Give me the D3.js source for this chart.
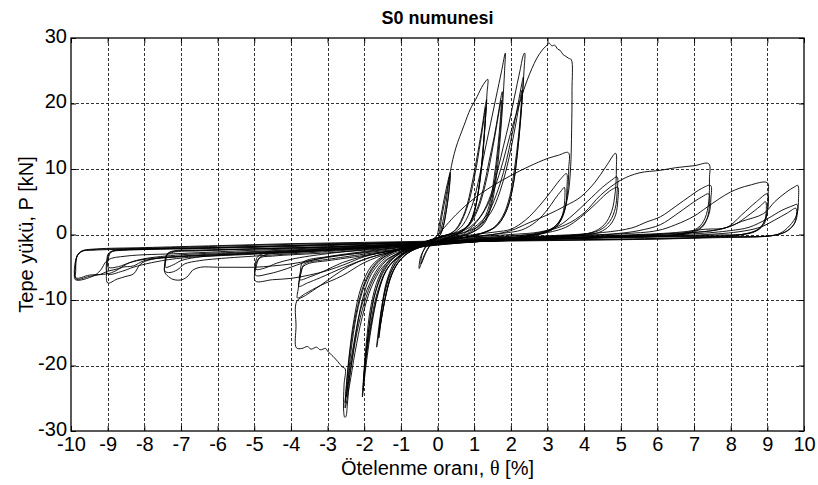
<!DOCTYPE html>
<html><head><meta charset="utf-8">
<script src="https://cdn.jsdelivr.net/npm/d3@7/dist/d3.min.js"></script>
<style>body{margin:0;background:#fff}svg{display:block}</style>
</head><body>
<svg id="chart" width="818" height="485"></svg>
<script>
// ---------- axis ticks ----------
const xTicks = [-10,-9,-8,-7,-6,-5,-4,-3,-2,-1,0,1,2,3,4,5,6,7,8,9,10];
const yTicks = [-30,-20,-10,0,10,20,30];
const titleText = "S0 numunesi";
const xLabel = "Ötelenme oranı, ";
const yLabel = "Tepe yükü, P [kN]";

// ---------- hysteresis cycles: [drift ratio %, load kN] ----------
const smallA1 = [[0,0],[0.1,3],[0.22,6.5],[0.35,9.5],[0.33,7.5],[0.25,4],[0.15,1],[0.05,-0.3],[-0.15,-1.3],[-0.3,-2.6],[-0.45,-4.5],[-0.42,-3],[-0.3,-1.6],[-0.1,-0.6],[0.05,0.2]];
const smallA2 = [[0.05,0.2],[0.12,2.8],[0.24,6.2],[0.34,9],[0.31,6.5],[0.22,3],[0.12,0.6],[0,-0.6],[-0.2,-1.6],[-0.35,-3],[-0.5,-5.2],[-0.46,-3.4],[-0.3,-1.8],[-0.1,-0.7],[0.08,0.3]];
const g1a = [[0.08,0.3],[0.2,3.5],[0.35,9.6],[0.5,13.2],[0.72,16.6],[0.9,19.2],[1.04,20.6],[1.2,22.4],[1.3,23.3],[1.37,23.7],[1.35,21.5],[1.3,17],[1.22,11],[1.1,6],[0.95,2.5],[0.7,0.6],[0.3,-0.4],[0,-1],[-0.4,-1.8],[-0.8,-2.8],[-1.1,-4.5],[-1.3,-7],[-1.45,-10.5],[-1.58,-14.5],[-1.66,-17.2],[-1.62,-15],[-1.52,-11],[-1.38,-7],[-1.15,-4],[-0.8,-2.3],[-0.4,-1.3],[0,-0.5],[0.3,0]];
const g1b = [[0.3,0],[0.5,0.8],[0.75,3.5],[0.95,8],[1.1,12.5],[1.22,16.5],[1.3,19.5],[1.34,20.6],[1.32,18.5],[1.26,14],[1.17,9],[1.05,4.5],[0.9,1.8],[0.65,0.4],[0.3,-0.5],[-0.2,-1.4],[-0.6,-2.2],[-0.95,-3.5],[-1.2,-5.5],[-1.38,-8.5],[-1.52,-12.5],[-1.6,-15.8],[-1.57,-13.5],[-1.47,-9.5],[-1.3,-6],[-1.05,-3.6],[-0.7,-2.1],[-0.3,-1.1],[0.1,-0.3],[0.35,0.1]];
const g1c = [[0.35,0.1],[0.55,1],[0.8,4],[1.0,8.5],[1.14,13],[1.25,17],[1.32,19.5],[1.3,17.5],[1.24,13],[1.15,8],[1.02,4],[0.85,1.5],[0.6,0.3],[0.2,-0.6],[-0.3,-1.5],[-0.7,-2.4],[-1.0,-3.8],[-1.25,-6],[-1.42,-9.5],[-1.55,-13.5],[-1.6,-15.2],[-1.55,-12.5],[-1.42,-8.5],[-1.22,-5.2],[-0.95,-3.2],[-0.6,-1.9],[-0.2,-0.9],[0.2,-0.2],[0.45,0.2]];
const g2a = [[0.45,0.2],[0.7,1.5],[0.95,4.5],[1.15,9],[1.3,13],[1.45,17],[1.6,21],[1.75,25],[1.85,27.7],[1.83,25],[1.78,20],[1.7,14],[1.6,8.5],[1.45,4],[1.25,1.5],[0.9,0.2],[0.4,-0.6],[-0.2,-1.4],[-0.7,-2.3],[-1.1,-3.5],[-1.4,-5.5],[-1.62,-9],[-1.8,-14],[-1.95,-20],[-2.05,-24.8],[-2.02,-22],[-1.95,-17],[-1.82,-11],[-1.6,-6.5],[-1.3,-3.8],[-0.9,-2.3],[-0.4,-1.2],[0.1,-0.3],[0.5,0.3]];
const g2b = [[0.5,0.3],[0.8,1.2],[1.05,3.5],[1.25,7],[1.4,11],[1.55,15],[1.66,18.5],[1.74,21.2],[1.77,21.8],[1.75,19],[1.68,14],[1.58,9],[1.45,4.5],[1.28,2],[1.0,0.5],[0.5,-0.5],[0,-1.2],[-0.5,-2.0],[-1.0,-3.2],[-1.35,-5],[-1.6,-8.5],[-1.8,-13.5],[-1.95,-19],[-2.03,-23.8],[-2.0,-21],[-1.9,-15.5],[-1.75,-10],[-1.5,-6],[-1.2,-3.6],[-0.8,-2.1],[-0.3,-1.1],[0.2,-0.2],[0.55,0.3]];
const g2c = [[0.55,0.3],[0.85,1.3],[1.1,3.8],[1.3,7.5],[1.45,11.5],[1.58,15.5],[1.68,18.8],[1.74,20.5],[1.72,18],[1.64,13],[1.54,8.5],[1.4,4.2],[1.2,1.8],[0.9,0.4],[0.4,-0.6],[-0.1,-1.3],[-0.6,-2.1],[-1.05,-3.4],[-1.4,-5.5],[-1.65,-9],[-1.85,-14.5],[-1.98,-20],[-2.02,-22.8],[-1.97,-19.5],[-1.85,-13.5],[-1.68,-8.5],[-1.45,-5.2],[-1.1,-3.1],[-0.7,-1.9],[-0.2,-0.9],[0.3,-0.1],[0.6,0.3]];
const g3a = [[0.6,0.3],[0.9,1.2],[1.2,3],[1.45,6],[1.65,10],[1.8,13.5],[1.95,17],[2.1,21],[2.25,25],[2.35,27.5],[2.38,27.7],[2.36,25],[2.3,20],[2.2,13.5],[2.08,8],[1.9,4],[1.65,1.5],[1.2,0.2],[0.6,-0.6],[0,-1.3],[-0.6,-2.1],[-1.1,-3.2],[-1.5,-5],[-1.8,-8],[-2.05,-12.5],[-2.25,-18],[-2.4,-23],[-2.52,-26.5],[-2.5,-24],[-2.42,-19],[-2.28,-13],[-2.08,-8],[-1.8,-4.8],[-1.4,-3],[-0.9,-1.9],[-0.3,-1.0],[0.3,-0.2],[0.7,0.3]];
const g3b = [[0.7,0.3],[1.0,1.1],[1.35,3],[1.6,6],[1.8,9.5],[1.95,13],[2.08,16.5],[2.2,20],[2.3,23],[2.34,24],[2.32,21.5],[2.26,17],[2.16,11.5],[2.03,6.5],[1.85,3.2],[1.55,1],[1.0,-0.1],[0.4,-0.8],[-0.3,-1.6],[-0.9,-2.5],[-1.4,-4],[-1.75,-6.8],[-2.0,-10.5],[-2.2,-15],[-2.35,-20],[-2.47,-24],[-2.52,-25.7],[-2.48,-23],[-2.38,-17.5],[-2.22,-12],[-2.0,-7.5],[-1.7,-4.5],[-1.3,-2.9],[-0.8,-1.9],[-0.2,-1.0],[0.4,-0.2],[0.75,0.3]];
const g3c = [[0.75,0.3],[1.1,1.2],[1.45,3.3],[1.7,6.5],[1.88,10],[2.02,13.5],[2.14,17],[2.24,20.2],[2.3,22],[2.28,19.5],[2.21,15],[2.1,10],[1.97,5.8],[1.78,2.8],[1.5,0.9],[1.0,-0.2],[0.3,-0.9],[-0.4,-1.7],[-1.0,-2.7],[-1.5,-4.3],[-1.85,-7.5],[-2.1,-11.5],[-2.28,-16.5],[-2.42,-21.5],[-2.48,-24.8],[-2.44,-22],[-2.33,-16.5],[-2.16,-11],[-1.92,-6.8],[-1.6,-4.1],[-1.2,-2.7],[-0.6,-1.6],[0,-0.8],[0.7,0]];
const g4 = [[0.7,0],[1.0,1.5],[1.3,3.8],[1.55,7],[1.78,11],[1.99,15.4],[2.18,19],[2.45,23.6],[2.7,26.8],[2.88,28.3],[2.99,28.9],[3.05,29.2],[3.12,28.8],[3.2,28.9],[3.28,28.3],[3.35,28.1],[3.42,27.5],[3.5,27.2],[3.58,26.9],[3.65,26.7],[3.67,22],[3.66,16],[3.63,10],[3.56,6],[3.42,3],[3.2,1.2],[2.8,0.2],[2.0,-0.5],[1.0,-0.9],[0,-1.4],[-0.8,-2.2],[-1.4,-3.5],[-1.8,-6],[-2.05,-10],[-2.25,-16],[-2.4,-22],[-2.46,-26],[-2.5,-27.8],[-2.53,-27.9],[-2.56,-27],[-2.55,-23],[-2.52,-20.5],[-2.6,-20.2],[-2.72,-19.4],[-2.85,-18.6],[-3.0,-17.8],[-3.05,-17.4],[-3.2,-17.6],[-3.3,-17.2],[-3.45,-17.5],[-3.55,-17.1],[-3.7,-17.4],[-3.85,-17.3],[-3.86,-14],[-3.84,-10.2],[-3.6,-9.3],[-3.2,-7.8],[-2.8,-6.2],[-2.4,-4.8],[-1.9,-3.6],[-1.3,-2.7],[-0.6,-1.8],[0,-1.0],[0.5,-0.3]];
const g5a = [[0.1,0.5],[0.5,3],[1.0,5.5],[1.5,7.4],[2.0,9],[2.5,10.4],[3.0,11.6],[3.3,12.1],[3.57,12.5],[3.58,10],[3.55,6.5],[3.45,3.5],[3.25,1.5],[2.9,0.3],[2.0,-0.5],[1.0,-1.0],[0,-1.5],[-1.0,-2.3],[-2.0,-3.2],[-3.0,-4.0],[-3.5,-4.4],[-3.68,-5],[-3.75,-6.5],[-3.8,-8.3],[-3.82,-9.7],[-3.6,-9.0],[-3.2,-7.8],[-2.6,-6.3],[-2.0,-4.3],[-1.3,-2.8],[-0.6,-1.8],[0,-1.0],[0.6,-0.2]];
const g5b = [[0.3,-0.6],[1.0,0],[1.6,0.4],[2.0,0.8],[2.4,2.2],[2.8,4.5],[3.1,6.6],[3.35,8.4],[3.52,9.3],[3.53,7],[3.5,4.5],[3.4,2.5],[3.2,1],[2.8,0.1],[2.0,-0.6],[1,-1.1],[0,-1.6],[-1.0,-2.3],[-2.0,-3.0],[-3.0,-3.8],[-3.5,-4.2],[-3.65,-4.6],[-3.72,-5.8],[-3.78,-7.9],[-3.55,-7.4],[-3.2,-6.6],[-2.55,-5],[-2.0,-3.8],[-1.3,-2.7],[-0.6,-1.8],[0.2,-0.9],[0.5,-0.6]];
const g5c = [[0.5,-0.6],[1.2,-0.2],[1.8,0.2],[2.3,0.7],[2.7,2],[3.0,3.8],[3.2,5.4],[3.38,6.7],[3.46,7.2],[3.47,5.2],[3.42,3.2],[3.3,1.6],[3.05,0.5],[2.5,-0.3],[1.5,-0.9],[0,-1.6],[-1.0,-2.2],[-2.0,-2.8],[-3.0,-3.4],[-3.55,-3.9],[-3.7,-4.4],[-3.74,-5.6],[-3.76,-6.9],[-3.5,-6.5],[-3.1,-5.6],[-2.6,-4.3],[-2.0,-3.3],[-1.3,-2.5],[-0.5,-1.6],[0.3,-0.8],[0.8,-0.4]];
const g6a = [[0.8,-0.4],[1.5,0],[2.0,0.6],[2.5,1.8],[3.0,3],[3.5,4.4],[3.9,5.7],[4.3,8],[4.6,10.4],[4.86,12.4],[4.88,10],[4.85,6.5],[4.75,3.5],[4.55,1.5],[4.2,0.3],[3,-0.4],[1.5,-0.9],[0,-1.5],[-1.5,-2.2],[-3,-2.8],[-4.5,-3.3],[-4.85,-3.6],[-4.95,-5],[-4.97,-7.1],[-4.5,-6.9],[-4.0,-6.7],[-3.5,-6.2],[-3.0,-5.5],[-2.5,-4.5],[-2.0,-3.4],[-1.3,-2.5],[-0.5,-1.6],[0.3,-0.7],[0.8,-0.4]];
const g6b = [[0.8,-0.4],[2,0],[2.8,0.4],[3.3,1.3],[3.7,3],[4.1,5.1],[4.5,7.2],[4.75,8.3],[4.9,8.8],[4.9,6.5],[4.85,4],[4.7,2],[4.4,0.6],[3.5,-0.2],[2,-0.7],[0,-1.4],[-2,-2.1],[-4,-2.8],[-4.7,-3.1],[-4.9,-3.8],[-4.97,-6.2],[-4.6,-6.0],[-4.1,-5.2],[-3.6,-4.2],[-3,-3.4],[-2,-2.6],[-1,-1.9],[0,-1.1],[1,-0.5]];
const g6c = [[1,-0.5],[2.3,-0.1],[3.0,0.3],[3.5,1.1],[3.9,2.6],[4.3,4.6],[4.6,6.2],[4.8,7],[4.92,7.2],[4.92,5.2],[4.86,3],[4.7,1.4],[4.4,0.3],[3.5,-0.3],[2,-0.8],[0,-1.4],[-2,-2.0],[-4,-2.6],[-4.75,-2.9],[-4.92,-3.5],[-4.96,-5.3],[-4.7,-5.1],[-4.4,-4.4],[-4.0,-3.8],[-3.5,-3.3],[-2.5,-2.6],[-1.2,-1.9],[0,-1.2],[1,-0.6]];
const g7a = [[1,-0.5],[2.5,0],[3.5,1.5],[4.0,3.3],[4.45,6],[5.0,8.3],[5.5,9.4],[6.08,9.8],[6.5,10.2],[7.0,10.5],[7.4,10.8],[7.42,8.5],[7.4,5],[7.3,2.5],[7.1,1],[6.5,0],[5,-0.4],[3,-0.7],[1,-1.1],[-1,-1.5],[-3,-1.9],[-5,-2.2],[-6.5,-2.5],[-7.2,-2.7],[-7.4,-3.2],[-7.44,-4.5],[-7.44,-5.8],[-7.3,-6.6],[-7.19,-6.9],[-6.97,-6.9],[-6.8,-6.3],[-6.69,-5.5],[-6.47,-5.0],[-6.0,-5.0],[-5.5,-5.0],[-5.0,-5.0],[-4.5,-4.8],[-4,-4.5],[-3.5,-4],[-3,-3.5],[-2,-2.7],[-1,-2.0],[0,-1.3],[1,-0.6]];
const g7b = [[1,-0.6],[3,-0.2],[4.5,0.3],[5.3,1],[5.7,1.9],[6.08,2.7],[6.5,4.3],[6.9,5.9],[7.2,7],[7.45,7.5],[7.46,5.5],[7.4,3],[7.2,1.2],[6.8,0.2],[5,-0.3],[3,-0.7],[1,-1.1],[-1,-1.5],[-3,-1.9],[-5,-2.2],[-6.5,-2.4],[-7.1,-2.5],[-7.35,-2.9],[-7.42,-4],[-7.44,-5.6],[-7.3,-5.8],[-7.1,-5.4],[-6.9,-4.5],[-6.5,-4.0],[-6,-3.7],[-5,-3.3],[-3,-2.6],[-1,-1.8],[1,-0.7]];
const g7c = [[1,-0.7],[3,-0.3],[4.8,0.1],[5.5,0.6],[6.08,1.5],[6.5,3],[6.9,4.6],[7.2,5.7],[7.4,6.2],[7.42,4.5],[7.36,2.5],[7.2,1],[6.8,0.1],[5,-0.3],[3,-0.7],[1,-1.1],[-1,-1.5],[-3,-1.9],[-5,-2.2],[-6.5,-2.4],[-7.2,-2.5],[-7.38,-3],[-7.42,-4.2],[-7.42,-5.0],[-7.2,-4.6],[-7.0,-4.0],[-6.6,-3.5],[-6,-3.2],[-5,-2.9],[-3,-2.4],[-1,-1.7],[1,-0.8]];
const g8a = [[1,-0.7],[3,-0.3],[5,0.1],[6,0.6],[6.5,1.5],[7.0,2.8],[7.36,4.2],[8.0,6.5],[8.5,7.5],[9.0,7.9],[9.02,6],[9.0,3.5],[8.9,1.5],[8.6,0.3],[7.5,-0.1],[5,-0.4],[2,-0.8],[0,-1.1],[-2,-1.4],[-4,-1.7],[-6,-2.0],[-8,-2.3],[-8.8,-2.45],[-8.98,-2.9],[-9.02,-5],[-9.0,-7.4],[-8.74,-6.8],[-8.5,-6.4],[-8.29,-6.0],[-8.1,-4.5],[-7.8,-3.8],[-7,-3.4],[-5,-2.8],[-3,-2.2],[-1,-1.6],[1,-0.8]];
const g8b = [[1,-0.8],[3,-0.4],[5,-0.1],[6.5,0.3],[7.3,0.8],[7.9,1.1],[8.3,3],[8.7,5],[9.0,6.2],[9.02,4.5],[8.95,2.5],[8.8,1],[8.4,0.1],[6,-0.3],[3,-0.6],[0,-1.1],[-3,-1.6],[-6,-2.0],[-8.5,-2.3],[-8.9,-2.6],[-9.0,-3.5],[-9.0,-6.0],[-8.6,-5.6],[-8.3,-5],[-7.8,-4.3],[-7,-3.6],[-5,-3.0],[-3,-2.4],[-1,-1.7],[1,-0.9]];
const g8c = [[1,-0.9],[3,-0.5],[5,-0.2],[6.5,0.2],[7.5,0.6],[8.1,1.5],[8.5,3],[8.8,4.3],[8.95,5.0],[8.97,3.6],[8.92,2],[8.75,0.8],[8.3,0],[6,-0.4],[3,-0.7],[0,-1.2],[-3,-1.7],[-6,-2.1],[-8.5,-2.4],[-8.9,-2.7],[-8.98,-3.6],[-8.98,-5.0],[-8.7,-4.9],[-8.4,-4.3],[-8.0,-3.8],[-7.2,-3.4],[-5,-2.9],[-3,-2.4],[-1,-1.8],[1,-1.0]];
const g9a = [[1,-0.8],[3,-0.5],[5,-0.2],[7,0.3],[7.8,0.9],[8.3,2],[8.9,3.2],[9.2,5],[9.5,6.4],[9.75,7.3],[9.83,7.5],[9.85,5.5],[9.8,3],[9.6,1.3],[9.27,0],[8,-0.3],[6.1,-0.66],[4,-0.8],[2,-0.9],[0,-1.0],[-2,-1.2],[-4,-1.4],[-6,-1.7],[-8,-2.0],[-9.3,-2.2],[-9.65,-2.45],[-9.82,-3.2],[-9.88,-5],[-9.88,-6.9],[-9.38,-6.3],[-9.2,-5.5],[-9.0,-3.9],[-8.5,-3.3],[-7,-2.9],[-5,-2.4],[-3,-2.0],[-1,-1.5],[1,-0.9]];
const g9b = [[1,-0.9],[3,-0.6],[5,-0.3],[7,0.1],[8.0,0.6],[8.5,1.1],[9.0,2.4],[9.4,3.7],[9.7,4.4],[9.81,4.6],[9.82,3.3],[9.75,1.8],[9.55,0.6],[9.2,-0.1],[7.5,-0.4],[5,-0.7],[2,-0.9],[0,-1.1],[-2,-1.3],[-4,-1.5],[-6,-1.8],[-8,-2.1],[-9.4,-2.3],[-9.7,-2.5],[-9.84,-3.3],[-9.87,-5.5],[-9.86,-6.8],[-9.5,-6.4],[-9.2,-6.1],[-9.0,-5.6],[-8.7,-5.2],[-8.4,-4.3],[-8,-3.7],[-7,-3.1],[-5,-2.6],[-3,-2.1],[-1,-1.6],[1,-1.0]];
const g9c = [[1,-1.0],[3,-0.7],[5,-0.4],[7,-0.1],[8.2,0.4],[8.8,1.1],[9.2,2.2],[9.55,3.3],[9.78,4.0],[9.79,2.8],[9.72,1.5],[9.5,0.4],[9.1,-0.2],[7.5,-0.5],[5,-0.8],[2,-1.0],[0,-1.2],[-2,-1.4],[-4,-1.7],[-6,-2.0],[-8,-2.2],[-9.4,-2.4],[-9.72,-2.6],[-9.85,-3.5],[-9.87,-6.6],[-9.5,-6.2],[-9.0,-6.0],[-8.8,-5.6],[-8.6,-5.0],[-8.3,-4.8],[-8.0,-4.0],[-7,-3.3],[-5,-2.7],[-3,-2.2],[-1,-1.7],[0,-1.3]];

const cycles = [smallA1, smallA2, g1a, g1b, g1c, g2a, g2b, g2c, g3a, g3b, g3c, g4,
                g5a, g5b, g5c, g6a, g6b, g6c, g7a, g7b, g7c, g8a, g8b, g8c, g9a, g9b, g9c];

// ---------- drawing ----------
const svg = d3.select("#chart");
const margin = {left: 71, right: 804, top: 38, bottom: 431};
const x = d3.scaleLinear().domain([-10, 10]).range([margin.left, margin.right]);
const y = d3.scaleLinear().domain([-30, 30]).range([margin.bottom, margin.top]);
const font = "Arial, 'Liberation Sans', Helvetica, sans-serif";

svg.append("rect").attr("width", 818).attr("height", 485).attr("fill", "#fff");

// grid
const grid = svg.append("g").attr("stroke", "#000").attr("stroke-width", 0.8)
  .attr("stroke-dasharray", "2.5,2.5").attr("shape-rendering", "crispEdges");
xTicks.slice(1, -1).forEach(t => grid.append("line")
  .attr("x1", Math.round(x(t)) + 0.5).attr("x2", Math.round(x(t)) + 0.5)
  .attr("y1", margin.top).attr("y2", margin.bottom));
yTicks.slice(1, -1).forEach(t => grid.append("line")
  .attr("y1", Math.round(y(t)) + 0.5).attr("y2", Math.round(y(t)) + 0.5)
  .attr("x1", margin.left).attr("x2", margin.right));

// curves
svg.append("clipPath").attr("id", "clip").append("rect")
  .attr("x", margin.left).attr("y", margin.top)
  .attr("width", margin.right - margin.left).attr("height", margin.bottom - margin.top);
const line = d3.line().x(d => x(d[0])).y(d => y(d[1])).curve(d3.curveCatmullRom.alpha(0.5));
svg.append("g").attr("clip-path", "url(#clip)")
  .selectAll("path").data(cycles).join("path")
  .attr("d", line).attr("fill", "none").attr("stroke", "#000").attr("stroke-width", 0.9)
  .attr("stroke-linejoin", "round");

// axes (MATLAB-like, ticks inside, box)
const fmt = d => String(d);
const axB = d3.axisBottom(x).tickValues(xTicks).tickSize(-5).tickPadding(6).tickFormat(fmt);
const axL = d3.axisLeft(y).tickValues(yTicks).tickSize(-5).tickPadding(4).tickFormat(fmt);
const axT = d3.axisTop(x).tickValues(xTicks).tickSize(-5).tickFormat("");
const axR = d3.axisRight(y).tickValues(yTicks).tickSize(-5).tickFormat("");
function style(g) {
  g.selectAll(".domain").remove();
  g.selectAll("line").attr("stroke", "#000");
  g.selectAll("text").attr("font-family", font).attr("font-size", 20).attr("fill", "#000");
}
svg.append("g").attr("transform", `translate(0,${margin.bottom})`).call(axB).call(style);
const gL = svg.append("g").attr("transform", `translate(${margin.left},0)`).call(axL).call(style);
gL.selectAll("text").attr("dy", "0.2em");
svg.append("g").attr("transform", `translate(0,${margin.top})`).call(axT).call(style);
svg.append("g").attr("transform", `translate(${margin.right},0)`).call(axR).call(style);
svg.append("rect").attr("x", margin.left).attr("y", margin.top)
  .attr("width", margin.right - margin.left).attr("height", margin.bottom - margin.top)
  .attr("fill", "none").attr("stroke", "#000").attr("stroke-width", 1.3);

// texts
svg.append("text").attr("x", (margin.left + margin.right) / 2).attr("y", 24)
  .attr("text-anchor", "middle").attr("font-family", font).attr("font-weight", "bold")
  .attr("font-size", 18).text(titleText);
const xl = svg.append("text").attr("x", (margin.left + margin.right) / 2).attr("y", 475)
  .attr("text-anchor", "middle").attr("font-family", font).attr("font-size", 20);
xl.append("tspan").text(xLabel);
xl.append("tspan").attr("font-family", "'Liberation Serif', 'Times New Roman', serif").text("θ");
xl.append("tspan").text(" [%]");
svg.append("text").attr("transform", `translate(33,${(margin.top + margin.bottom) / 2}) rotate(-90)`)
  .attr("text-anchor", "middle").attr("font-family", font).attr("font-size", 20).text(yLabel);
</script>
</body></html>
